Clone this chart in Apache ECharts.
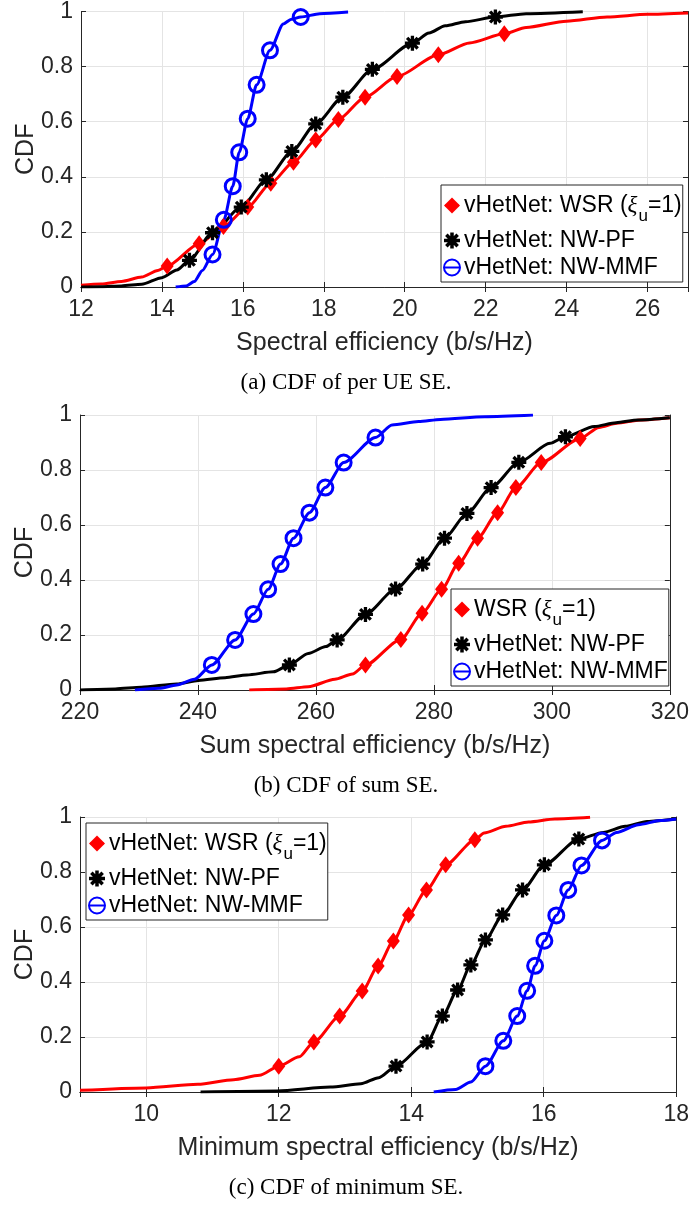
<!DOCTYPE html>
<html>
<head>
<meta charset="utf-8">
<script src="https://cdn.jsdelivr.net/npm/echarts@6/dist/echarts.min.js"></script>
<style>
  html, body { margin: 0; padding: 0; background: #fff; }
  #chart { width: 692px; height: 1205px; }
</style>
</head>
<body>
<div id="chart"></div>
<script>
// (a) per UE SE: curve samples and marker points, [x, cdf]
const ueWsrLine = [[12, 0.006], [12.5, 0.011], [13, 0.02], [13.5, 0.036], [13.9, 0.06], [21.6, 0.886], [23, 0.942], [24, 0.965], [25, 0.98], [26, 0.99], [27, 0.995]];
const ueWsrMarks = [[14.13, 0.076], [14.92, 0.157], [15.52, 0.22], [16.12, 0.29], [16.69, 0.377], [17.25, 0.453], [17.8, 0.534], [18.36, 0.608], [19.02, 0.689], [19.81, 0.764], [20.83, 0.843], [22.46, 0.919]];
const uePfLine = [[12, 0], [12.5, 0.001], [13, 0.004], [13.5, 0.01], [14, 0.034], [14.37, 0.062], [20.6, 0.922], [21, 0.948], [21.5, 0.963], [23, 0.992], [24.4, 0.999]];
const uePfMarks = [[14.68, 0.097], [15.25, 0.197], [15.96, 0.29], [16.58, 0.389], [17.21, 0.492], [17.8, 0.592], [18.47, 0.689], [19.2, 0.79], [20.19, 0.885], [22.24, 0.98]];
const ueMmfLine = [[14.34, 0], [14.6, 0.004], [14.8, 0.02], [15.0, 0.06], [17.0, 0.955], [17.2, 0.972], [17.9, 0.992], [18.6, 0.998]];
const ueMmfMarks = [[15.25, 0.118], [15.53, 0.244], [15.75, 0.366], [15.91, 0.489], [16.12, 0.611], [16.34, 0.734], [16.67, 0.859], [17.43, 0.98]];

// (b) sum SE
const sumWsrLine = [[248.7, 0], [255, 0.004], [258.7, 0.012], [263.2, 0.039], [266.2, 0.058], [308, 0.955], [311, 0.97], [315, 0.982], [320, 0.99]];
const sumWsrMarks = [[268.4, 0.091], [274.4, 0.184], [278.0, 0.279], [281.3, 0.366], [284.2, 0.461], [287.4, 0.552], [290.8, 0.645], [293.9, 0.736], [298.2, 0.827], [304.8, 0.915]];
const sumPfLine = [[220, 0], [226, 0.004], [230.4, 0.01], [236.4, 0.022], [240.1, 0.035], [244.6, 0.045], [248.3, 0.055], [252.8, 0.066], [258.7, 0.133], [261.7, 0.158], [299.7, 0.897], [307.2, 0.958], [310.9, 0.972], [314.6, 0.982], [320, 0.99]];
const sumPfMarks = [[255.5, 0.091], [263.6, 0.182], [268.4, 0.275], [273.5, 0.367], [278.1, 0.458], [281.8, 0.552], [285.6, 0.642], [289.7, 0.736], [294.4, 0.828], [302.3, 0.921]];
const sumMmfLine = [[229.3, 0], [233.4, 0.006], [236.4, 0.018], [239.4, 0.039], [272.9, 0.964], [277.4, 0.976], [281.1, 0.984], [288.6, 0.994], [296.8, 1.0]];
const sumMmfMarks = [[242.35, 0.091], [246.3, 0.182], [249.4, 0.276], [251.9, 0.366], [254.0, 0.458], [256.2, 0.552], [258.9, 0.645], [261.6, 0.736], [264.7, 0.827], [270.1, 0.918]];

// (c) minimum SE
const minWsrLine = [[9, 0.006], [10, 0.015], [10.78, 0.028], [11.32, 0.045], [11.71, 0.061], [12.31, 0.128], [15.1, 0.942], [15.43, 0.966], [15.77, 0.982], [16.17, 0.993], [16.7, 0.999]];
const minWsrMarks = [[12.0, 0.094], [12.53, 0.182], [12.92, 0.276], [13.26, 0.367], [13.5, 0.458], [13.73, 0.549], [13.96, 0.644], [14.23, 0.735], [14.52, 0.826], [14.96, 0.917]];
const minPfLine = [[10.82, 0], [11.98, 0.004], [12.78, 0.018], [13.24, 0.03], [13.51, 0.052], [16.9, 0.944], [17.23, 0.966], [17.56, 0.984], [18, 0.993]];
const minPfMarks = [[13.77, 0.094], [14.24, 0.182], [14.47, 0.276], [14.7, 0.371], [14.9, 0.462], [15.12, 0.553], [15.38, 0.644], [15.68, 0.735], [16.01, 0.826], [16.53, 0.92]];
const minMmfLine = [[14.34, 0], [14.67, 0.009], [14.9, 0.036], [17.1, 0.944], [17.43, 0.972], [17.76, 0.987], [18, 0.993]];
const minMmfMarks = [[15.12, 0.094], [15.39, 0.186], [15.6, 0.276], [15.75, 0.368], [15.87, 0.459], [16.01, 0.55], [16.19, 0.642], [16.37, 0.735], [16.57, 0.824], [16.88, 0.915]];

const xTitles = ['Spectral efficiency (b/s/Hz)', 'Sum spectral efficiency (b/s/Hz)', 'Minimum spectral efficiency (b/s/Hz)'];
const captions = ['(a) CDF of per UE SE.', '(b) CDF of sum SE.', '(c) CDF of minimum SE.'];
const legendNames = [
  ['vHetNet: WSR (ξu=1)', 'vHetNet: NW-PF', 'vHetNet: NW-MMF'],
  ['WSR (ξu=1)', 'vHetNet: NW-PF', 'vHetNet: NW-MMF'],
  ['vHetNet: WSR (ξu=1)', 'vHetNet: NW-PF', 'vHetNet: NW-MMF'],
];

const SANS = 'Liberation Sans';
const TXT = '#262626';

// asterisk marker, 4 bars through the centre
function asteriskPath() {
  let d = '';
  [0, 45, 90, 135].forEach((a) => {
    const r = a * Math.PI / 180;
    const c = Math.cos(r);
    const s = Math.sin(r);
    const pts = [[-10, -2.2], [10, -2.2], [10, 2.2], [-10, 2.2]].map(([x, y]) => [x * c - y * s, x * s + y * c]);
    d += 'M' + pts.map((p) => p[0].toFixed(2) + ' ' + p[1].toFixed(2)).join('L') + 'Z';
  });
  return 'path://' + d;
}

const styles = {
  wsr: { symbol: 'diamond', size: [13, 17], color: '#ff0000', item: { color: '#ff0000' } },
  pf: { symbol: asteriskPath(), size: 15, color: '#000000', item: { color: '#000000' } },
  mmf: { symbol: 'circle', size: 15, color: '#0000ff', item: { color: 'rgba(0,0,0,0)', borderColor: '#0000ff', borderWidth: 3 } },
};

function merge(line, marks) {
  const pts = line.map((p) => ({ value: p, symbol: 'none' }))
    .concat(marks.map((p) => ({ value: p })));
  return pts.sort((a, b) => a.value[0] - b.value[0]);
}

function cdfSeries(gi, name, line, marks, st) {
  return {
    type: 'line',
    name,
    xAxisIndex: gi * 2,
    yAxisIndex: gi * 2,
    data: merge(line, marks),
    symbol: st.symbol,
    symbolSize: st.size,
    showSymbol: true,
    showAllSymbol: true,
    smooth: 0.25,
    smoothMonotone: 'x',
    lineStyle: { color: st.color, width: 3 },
    itemStyle: st.item,
    emphasis: { disabled: true },
    clip: true,
  };
}

const grids = [
  { left: 81, top: 11, width: 607, height: 276 },
  { left: 80, top: 415, width: 593, height: 275 },
  { left: 80, top: 817, width: 598, height: 275 },
];
const xRange = [
  { min: 12, max: 27, interval: 2 },
  { min: 220, max: 320, interval: 20 },
  { min: 9, max: 18 },
];
const legendPos = [
  { left: 441, top: 185 },
  { left: 451, top: 589 },
  { left: 86, top: 823 },
];

const axisLineStyle = { show: true, lineStyle: { color: TXT, width: 1 } };
const xAxes = [];
const yAxes = [];
grids.forEach((g, gi) => {
  const r = xRange[gi];
  xAxes.push({
    type: 'value', gridIndex: gi, position: 'bottom', min: r.min, max: r.max, interval: r.interval,
    name: xTitles[gi], nameLocation: 'middle', nameGap: 44,
    nameTextStyle: { fontSize: 25, fontFamily: SANS, color: TXT },
    axisLine: axisLineStyle,
    axisTick: { inside: true, length: 5, lineStyle: { color: TXT } },
    axisLabel: { fontSize: 23, fontFamily: SANS, color: TXT, margin: 11, showMaxLabel: gi !== 0, showMinLabel: gi !== 2 },
    splitLine: { show: true, lineStyle: { color: '#e4e4e4', width: 1 } },
  });
  xAxes.push({
    type: 'value', gridIndex: gi, position: 'top', min: r.min, max: r.max, interval: r.interval,
    axisLine: axisLineStyle,
    axisTick: { inside: true, length: 5, lineStyle: { color: TXT } },
    axisLabel: { show: false },
    splitLine: { show: false },
  });
  yAxes.push({
    type: 'value', gridIndex: gi, position: 'left', min: 0, max: 1, interval: 0.2,
    name: 'CDF', nameLocation: 'middle', nameGap: 42, nameRotate: 90, nameMoveOverlap: false,
    nameTextStyle: { fontSize: 25, fontFamily: SANS, color: TXT },
    axisLine: axisLineStyle,
    axisTick: { inside: true, length: 5, lineStyle: { color: TXT } },
    axisLabel: { fontSize: 23, fontFamily: SANS, color: TXT, margin: 8 },
    splitLine: { show: true, lineStyle: { color: '#e4e4e4', width: 1 } },
  });
  yAxes.push({
    type: 'value', gridIndex: gi, position: 'right', min: 0, max: 1, interval: 0.2,
    axisLine: axisLineStyle,
    axisTick: { inside: true, length: 5, lineStyle: { color: TXT } },
    axisLabel: { show: false },
    splitLine: { show: false },
  });
});

const series = [
  cdfSeries(0, legendNames[0][0], ueWsrLine, ueWsrMarks, styles.wsr),
  cdfSeries(0, legendNames[0][1], uePfLine, uePfMarks, styles.pf),
  cdfSeries(0, legendNames[0][2], ueMmfLine, ueMmfMarks, styles.mmf),
  cdfSeries(1, legendNames[1][0], sumWsrLine, sumWsrMarks, styles.wsr),
  cdfSeries(1, legendNames[1][1], sumPfLine, sumPfMarks, styles.pf),
  cdfSeries(1, legendNames[1][2], sumMmfLine, sumMmfMarks, styles.mmf),
  cdfSeries(2, legendNames[2][0], minWsrLine, minWsrMarks, styles.wsr),
  cdfSeries(2, legendNames[2][1], minPfLine, minPfMarks, styles.pf),
  cdfSeries(2, legendNames[2][2], minMmfLine, minMmfMarks, styles.mmf),
];

const legends = legendPos.map((p, gi) => ({
  show: true,
  left: p.left,
  top: p.top,
  orient: 'vertical',
  data: legendNames[gi],
  selectedMode: false,
  itemWidth: 14,
  itemHeight: 20,
  itemGap: 4,
  padding: [9, 1, 3, 2],
  borderColor: TXT,
  borderWidth: 1,
  backgroundColor: '#fff',
  formatter: (name) => name.replace('ξu', '{xi|ξ}{sub|u}'),
  textStyle: {
    fontSize: 23,
    fontFamily: SANS,
    color: '#000',
    rich: {
      xi: { fontSize: 23, fontFamily: 'Liberation Serif', fontStyle: 'italic', color: '#000' },
      sub: { fontSize: 17, fontFamily: SANS, color: '#000', padding: [22, 0, 0, 1] },
    },
  },
}));

const captionTops = [371, 774, 1176];
const graphics = captions.map((t, i) => ({
  type: 'text',
  left: 'center',
  top: captionTops[i],
  style: { text: t, font: '23px "Liberation Serif"', fill: '#000' },
}));

const chart = echarts.init(document.getElementById('chart'));
chart.setOption({
  animation: false,
  backgroundColor: '#fff',
  grid: grids,
  xAxis: xAxes,
  yAxis: yAxes,
  legend: legends,
  series,
  graphic: graphics,
});
</script>
</body>
</html>
